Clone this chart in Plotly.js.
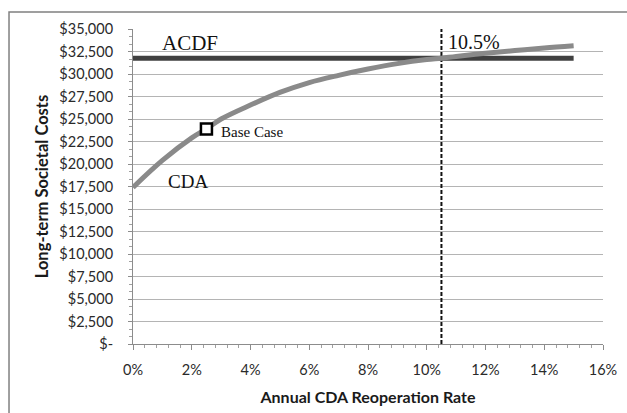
<!DOCTYPE html>
<html>
<head>
<meta charset="utf-8">
<script src="https://cdn.plot.ly/plotly-3.0.1.min.js"></script>
<style>html,body{margin:0;padding:0;background:#fff;}#chart{width:627px;height:413px;}</style>
</head>
<body>
<div id="chart"></div>
<script>
// Data
const cdaRate = [0, 1, 2, 2.5, 3, 4, 5, 6, 7, 8, 9, 10, 10.5, 11, 12, 13, 14, 15];
const cdaCost = [17400, 20400, 22900, 23900, 25000, 26550, 27950, 29050, 29850, 30550, 31150, 31600, 31750, 31950, 32300, 32600, 32900, 33150];
const acdfRate = [0, 15];
const acdfCost = [31750, 31750];
const baseRate = [2.5];
const baseCost = [23900];
const thresholdRate = [10.5, 10.5];
const thresholdCost = [0, 35000];
const yTickVals = [0, 2500, 5000, 7500, 10000, 12500, 15000, 17500, 20000, 22500, 25000, 27500, 30000, 32500, 35000];
const yTickText = ["$-", "$2,500", "$5,000", "$7,500", "$10,000", "$12,500", "$15,000", "$17,500", "$20,000", "$22,500", "$25,000", "$27,500", "$30,000", "$32,500", "$35,000"];
const xTickVals = [0, 2, 4, 6, 8, 10, 12, 14, 16];
const xTickText = ["0%", "2%", "4%", "6%", "8%", "10%", "12%", "14%", "16%"];

const serif = "Liberation Serif, Times New Roman, serif";
const sans = "Lato, Open Sans, sans-serif";

const traces = [
  {x: thresholdRate, y: thresholdCost, mode: "lines", line: {color: "#111", width: 2, dash: "4px,2px"}, hoverinfo: "skip"},
  {x: acdfRate, y: acdfCost, mode: "lines", line: {color: "#404040", width: 5}, name: "ACDF"},
  {x: cdaRate, y: cdaCost, mode: "lines", line: {color: "#8a8a8a", width: 5, shape: "spline"}, name: "CDA"},
  {x: baseRate, y: baseCost, mode: "markers", marker: {symbol: "square", size: 11, color: "#fff", line: {color: "#000", width: 2.5}}, name: "Base Case"}
];

const layout = {
  width: 627, height: 413,
  margin: {l: 133, r: 24, t: 29, b: 69},
  paper_bgcolor: "#fff", plot_bgcolor: "#fff",
  showlegend: false,
  font: {family: sans, color: "#333"},
  xaxis: {
    range: [0, 16], tickvals: xTickVals, ticktext: xTickText,
    showgrid: false, zeroline: false,
    showline: true, linecolor: "#8c8c8c", linewidth: 1,
    ticks: "outside", ticklen: 5, tickcolor: "#8c8c8c",
    ticklabelstandoff: 8,
    minor: {dtick: 0.4, ticks: "outside", ticklen: 3, tickcolor: "#a0a0a0", showgrid: false},
    tickfont: {family: sans, size: 14.5, color: "#2a2a2a"},
    title: {text: "Annual CDA Reoperation Rate", font: {family: sans, size: 16, color: "#1a1a1a", weight: "bold"}, standoff: 14}
  },
  yaxis: {
    range: [0, 35000], tickvals: yTickVals, ticktext: yTickText,
    showgrid: true, gridcolor: "#b4b4b4", gridwidth: 1, zeroline: false,
    showline: true, linecolor: "#8c8c8c", linewidth: 1,
    ticks: "outside", ticklen: 4, tickcolor: "#8c8c8c",
    ticklabelstandoff: 12,
    minor: {dtick: 2500/3, ticks: "outside", ticklen: 3, tickcolor: "#a0a0a0", showgrid: false},
    tickfont: {family: sans, size: 14.5, color: "#2a2a2a"},
    title: {text: "Long-term Societal Costs", font: {family: sans, size: 16.5, color: "#1a1a1a", weight: "bold"}, standoff: 6}
  },
  shapes: [
    {type: "path", xref: "paper", yref: "paper", path: "M -0.2638,-0.5 L -0.2638,1.054 L 1.5,1.054", line: {color: "#808080", width: 1.5}, fillcolor: "rgba(0,0,0,0)", layer: "below"}
  ],
  annotations: [
    {x: 0.92, y: 33450, text: "ACDF", showarrow: false, xanchor: "left", yanchor: "middle", font: {family: serif, size: 21, color: "#111"}},
    {x: 1.12, y: 18100, text: "CDA", showarrow: false, xanchor: "left", yanchor: "middle", font: {family: serif, size: 19, color: "#111"}},
    {x: 2.93, y: 23550, text: "Base Case", showarrow: false, xanchor: "left", yanchor: "middle", font: {family: serif, size: 15, color: "#111"}},
    {x: 10.66, y: 33590, text: "10.5%", showarrow: false, xanchor: "left", yanchor: "middle", font: {family: serif, size: 20, color: "#111"}}
  ]
};

Plotly.newPlot("chart", traces, layout, {staticPlot: true, displayModeBar: false});
</script>
</body>
</html>
